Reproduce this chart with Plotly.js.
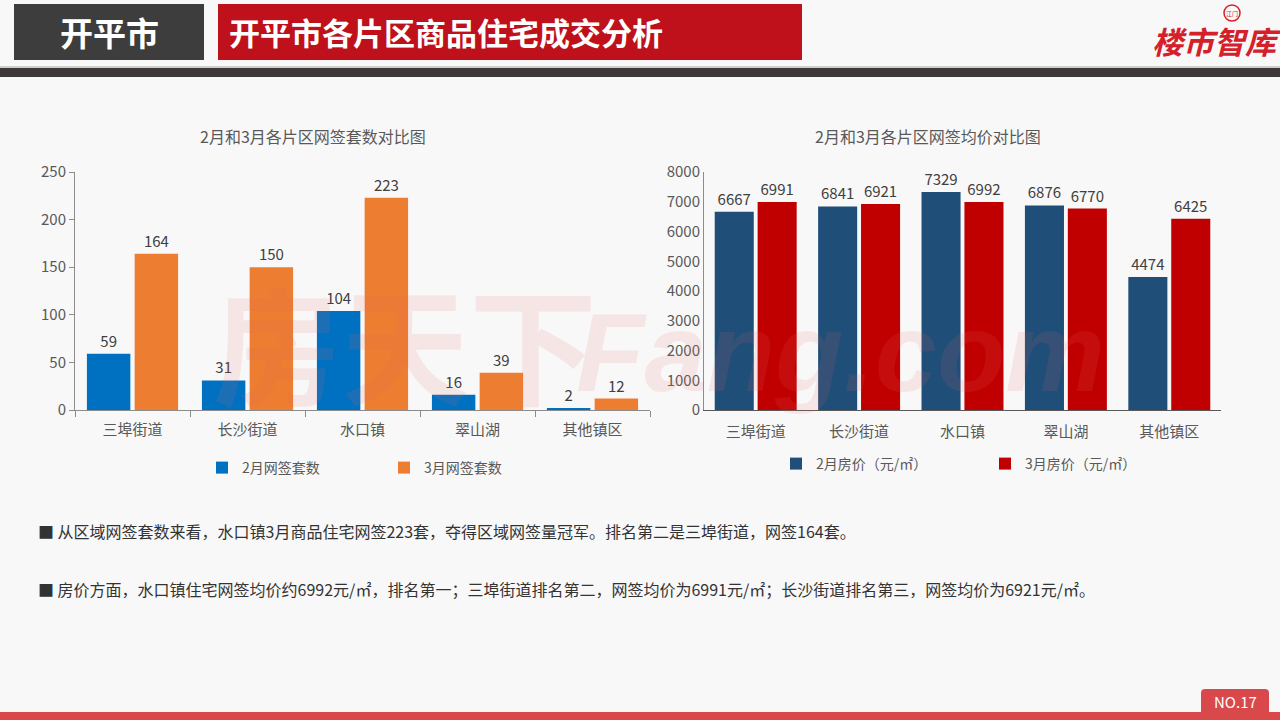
<!DOCTYPE html>
<html>
<head>
<meta charset="utf-8">
<script src="https://cdn.plot.ly/plotly-3.0.1.min.js"></script>
<style>html,body{margin:0;padding:0;background:#f8f8f8;}#chart{width:1280px;height:720px;}</style>
</head>
<body>
<div id="chart"></div>
<script>
// ---- data ----
const categories = ['三埠街道', '长沙街道', '水口镇', '翠山湖', '其他镇区'];
const febDeals = [59, 31, 104, 16, 2];
const marDeals = [164, 150, 223, 39, 12];
const febPrice = [6667, 6841, 7329, 6876, 4474];
const marPrice = [6991, 6921, 6992, 6770, 6425];
const dealsTicks = [0, 50, 100, 150, 200, 250];
const priceTicks = [0, 1000, 2000, 3000, 4000, 5000, 6000, 7000, 8000];
const seriesNames = ['2月网签套数', '3月网签套数', '2月房价（元/㎡）', '3月房价（元/㎡）'];
const chartTitles = ['2月和3月各片区网签套数对比图', '2月和3月各片区网签均价对比图'];
const headerLeft = '开平市';
const headerMain = '开平市各片区商品住宅成交分析';
const notes = [
  '■ 从区域网签套数来看，水口镇3月商品住宅网签223套，夺得区域网签量冠军。排名第二是三埠街道，网签164套。',
  '■ 房价方面，水口镇住宅网签均价约6992元/㎡，排名第一；三埠街道排名第二，网签均价为6991元/㎡；长沙街道排名第三，网签均价为6921元/㎡。'
];
const pageNo = 'NO.17';

const W = 1280, H = 720;
const px = x => x / W;
const py = y => 1 - y / H;
const FONT = '"Noto Sans CJK SC", "Noto Sans", sans-serif';
const TXT = '#595959';

const labelFont = {family: FONT, size: 15, color: '#404040'};

const traces = [
  {type: 'bar', x: categories, y: febDeals, name: seriesNames[0], marker: {color: '#0070c0'},
   text: febDeals.map(String), textposition: 'outside', textfont: labelFont, cliponaxis: false,
   xaxis: 'x', yaxis: 'y', legend: 'legend', hoverinfo: 'skip'},
  {type: 'bar', x: categories, y: marDeals, name: seriesNames[1], marker: {color: '#ed7d31'},
   text: marDeals.map(String), textposition: 'outside', textfont: labelFont, cliponaxis: false,
   xaxis: 'x', yaxis: 'y', legend: 'legend', hoverinfo: 'skip'},
  {type: 'bar', x: categories, y: febPrice, name: seriesNames[2], marker: {color: '#1f4e79'},
   text: febPrice.map(String), textposition: 'outside', textfont: labelFont, cliponaxis: false,
   xaxis: 'x2', yaxis: 'y2', legend: 'legend2', hoverinfo: 'skip'},
  {type: 'bar', x: categories, y: marPrice, name: seriesNames[3], marker: {color: '#c00000'},
   text: marPrice.map(String), textposition: 'outside', textfont: labelFont, cliponaxis: false,
   xaxis: 'x2', yaxis: 'y2', legend: 'legend2', hoverinfo: 'skip'}
];

const axisCommon = {
  tickfont: {family: FONT, size: 14, color: TXT},
  showgrid: false, zeroline: false, fixedrange: true
};

const shapes = [
  {type: 'rect', xref: 'paper', yref: 'paper', x0: px(14), x1: px(204), y0: py(60), y1: py(4), fillcolor: '#3d3d3d', line: {width: 0}, layer: 'below'},
  {type: 'rect', xref: 'paper', yref: 'paper', x0: px(218), x1: px(802), y0: py(60), y1: py(4), fillcolor: '#be111b', line: {width: 0}, layer: 'below'},
  {type: 'rect', xref: 'paper', yref: 'paper', x0: 0, x1: 1, y0: py(68), y1: py(66), fillcolor: '#cfcfcf', line: {width: 0}, layer: 'below'},
  {type: 'rect', xref: 'paper', yref: 'paper', x0: 0, x1: 1, y0: py(77), y1: py(68), fillcolor: '#3d3939', line: {width: 0}, layer: 'below'},
  {type: 'rect', xref: 'paper', yref: 'paper', x0: 0, x1: 1, y0: 0, y1: py(712), fillcolor: '#d9484a', line: {width: 0}, layer: 'below'},
  {type: 'path', xref: 'paper', yref: 'paper', layer: 'below', fillcolor: '#d9484a', line: {width: 0},
   path: `M ${px(1201)} ${py(712)} L ${px(1201)} ${py(693)} Q ${px(1201)} ${py(689)} ${px(1205)} ${py(689)} L ${px(1265)} ${py(689)} Q ${px(1269)} ${py(689)} ${px(1269)} ${py(693)} L ${px(1269)} ${py(712)} Z`},
  {type: 'circle', xref: 'paper', yref: 'paper', x0: px(1224), x1: px(1240), y0: py(21), y1: py(5), line: {color: '#d4202a', width: 1.5}, fillcolor: 'rgba(0,0,0,0)'}
];

function ann(text, x, y, font, xanchor) {
  return {text: text, x: px(x), y: py(y), xref: 'paper', yref: 'paper', showarrow: false,
          xanchor: xanchor || 'center', yanchor: 'middle', font: font};
}

const annotations = [
  ann(headerLeft, 109, 32, {family: FONT, size: 33, color: '#ffffff', weight: 'bold'}),
  ann(headerMain, 227, 32, {family: FONT, size: 31, color: '#ffffff', weight: 'bold'}, 'left'),
  ann('楼市智库', 1216, 40, {family: FONT, size: 31, color: '#d4202a', weight: 'bold', style: 'italic'}),
  ann('江门', 1232, 13, {family: FONT, size: 6, color: '#d4202a'}),
  // watermark
  ann('房天下', 405, 340, {family: FONT, size: 128, color: 'rgba(232,110,100,0.12)', weight: 'bold'}),
  ann('Fang.com', 840, 352, {family: '"Liberation Sans", Arial, sans-serif', size: 112, color: 'rgba(232,110,100,0.12)', weight: 'bold', style: 'italic'}),
  // chart titles
  ann(chartTitles[0], 313, 136, {family: FONT, size: 16, color: TXT}),
  ann(chartTitles[1], 928, 136, {family: FONT, size: 16, color: TXT}),
  // notes
  ann(notes[0], 36, 531, {family: FONT, size: 16, color: '#333333'}, 'left'),
  ann(notes[1], 36, 589, {family: FONT, size: 16, color: '#333333'}, 'left'),
  ann(pageNo, 1235, 701, {family: FONT, size: 15, color: '#ffffff'})
];

const layout = {
  width: W, height: H,
  margin: {l: 0, r: 0, t: 0, b: 0},
  paper_bgcolor: '#f8f8f8', plot_bgcolor: 'rgba(0,0,0,0)',
  font: {family: FONT, color: TXT},
  barmode: 'group',
  bargap: 0.17, bargroupgap: 0.09,
  xaxis: Object.assign({}, axisCommon, {
    domain: [px(75), px(650)], anchor: 'y', type: 'category',
    tickfont: {family: FONT, size: 15, color: TXT},
    showline: true, linecolor: '#8c8c8c', linewidth: 1,
    ticks: 'outside', tickson: 'boundaries', ticklen: 6, tickcolor: '#8c8c8c',
    ticklabelstandoff: 6
  }),
  yaxis: Object.assign({}, axisCommon, {
    domain: [py(410), py(172)], anchor: 'x', range: [0, 250], tickvals: dealsTicks,
    tickfont: {family: FONT, size: 15, color: TXT},
    showline: true, linecolor: '#8c8c8c', linewidth: 1,
    ticks: 'outside', ticklen: 5, tickcolor: '#8c8c8c'
  }),
  xaxis2: Object.assign({}, axisCommon, {
    domain: [px(704), px(1221)], anchor: 'y2', type: 'category',
    tickfont: {family: FONT, size: 15, color: TXT},
    showline: true, linecolor: '#595959', linewidth: 1, ticks: '',
    ticklabelstandoff: 8
  }),
  yaxis2: Object.assign({}, axisCommon, {
    domain: [py(410), py(172)], anchor: 'x2', range: [0, 8000], tickvals: priceTicks,
    tickfont: {family: FONT, size: 15, color: TXT},
    showline: true, linecolor: '#8c8c8c', linewidth: 1, ticks: ''
  }),
  legend: {
    orientation: 'h', x: px(202), y: py(468), xanchor: 'left', yanchor: 'middle',
    xref: 'paper', yref: 'paper', bgcolor: 'rgba(0,0,0,0)',
    entrywidth: 137, entrywidthmode: 'pixels',
    font: {family: FONT, size: 14, color: TXT}
  },
  legend2: {
    orientation: 'h', x: px(776), y: py(464), xanchor: 'left', yanchor: 'middle',
    xref: 'paper', yref: 'paper', bgcolor: 'rgba(0,0,0,0)',
    entrywidth: 164, entrywidthmode: 'pixels',
    font: {family: FONT, size: 14, color: TXT}
  },
  shapes: shapes,
  annotations: annotations,
  showlegend: true
};

Plotly.newPlot('chart', traces, layout, {displayModeBar: false, staticPlot: true});
</script>
</body>
</html>
